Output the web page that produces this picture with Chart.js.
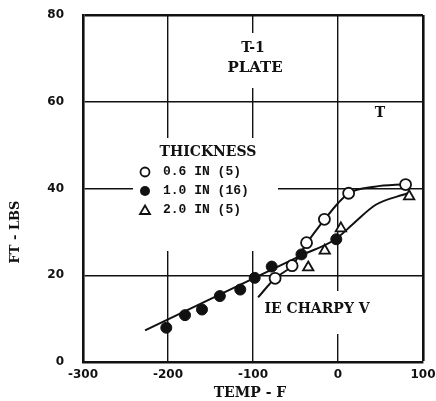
<!DOCTYPE html>
<html>
<head>
<meta charset="utf-8">
<script src="https://cdn.jsdelivr.net/npm/chart.js@4.4.1/dist/chart.umd.min.js"></script>
<style>
  html, body { margin: 0; padding: 0; background: #fff; }
  #wrap { width: 436px; height: 401px; position: relative; }
</style>
</head>
<body>
<div id="wrap"><canvas id="charpy"></canvas></div>
<script>
// axis ticks
const xTicks = [-300, -200, -100, 0, 100];
const yTicks = [0, 20, 40, 60, 80];

// 0.6 IN plate (open circles)
const openTemp = [-74, -54, -37, -16, 12.5, 79.5];
const openEnergy = [19.3, 22.2, 27.5, 32.9, 38.9, 40.9];

// 1.0 IN plate (filled circles)
const filledTemp = [-202, -180, -160, -139, -115, -98, -78, -43, -2];
const filledEnergy = [7.9, 10.8, 12.1, 15.2, 16.7, 19.4, 22.0, 24.8, 28.3];

// 2.0 IN plate (triangles)
const triTemp = [-35, -15.6, 3.4, 83.7];
const triEnergy = [21.8, 25.7, 30.8, 38.2];

// hand drawn fit curves
const upperCurveTemp = [-94, -74, -54, -37, -16, 0, 12.5, 43, 80];
const upperCurveEnergy = [14.9, 19.3, 22.2, 27.3, 32.8, 36.6, 38.9, 40.4, 41];
const lowerCurveTemp = [-227, -100, -43, -3, 17, 44, 82];
const lowerCurveEnergy = [7.3, 19.2, 24.6, 28.3, 31.7, 36.2, 38.9];

const legendRows = ['0.6 IN (5)', '1.0 IN (16)', '2.0 IN (5)'];

const pts = (xs, ys) => xs.map((x, i) => ({ x: x, y: ys[i] }));

const INK = '#111';
const serif = 'bold 14px "DejaVu Serif"';

const notes = {
    id: 'notes',
    beforeDatasetsDraw(chart) {
        const c = chart.ctx;
        c.save();
        // blank out grid behind the labels, like the original
        c.fillStyle = '#fff';
        c.fillRect(225, 33, 60, 55);
        c.fillRect(133, 138, 145, 113);
        c.fillRect(258, 291, 120, 43);

        c.fillStyle = INK;
        c.textAlign = 'center';
        c.textBaseline = 'middle';
        c.font = serif;
        c.fillText('T-1', 253, 48);
        c.font = 'bold 15px "DejaVu Serif"';
        c.fillText('PLATE', 255, 68);
        c.font = serif;
        c.fillText('T', 380, 113);
        c.fillText('THICKNESS', 208, 152);
        c.fillText('IE CHARPY V', 317, 309);

        c.textAlign = 'left';
        c.font = 'bold 13px "Liberation Mono"';
        const rowY = [172, 191, 210];
        legendRows.forEach((t, i) => c.fillText(t, 163, rowY[i]));

        // legend markers
        c.lineWidth = 1.8;
        c.strokeStyle = INK;
        c.beginPath();
        c.arc(145, rowY[0], 4.5, 0, Math.PI * 2);
        c.stroke();
        c.beginPath();
        c.arc(145, rowY[1], 5, 0, Math.PI * 2);
        c.fill();
        c.beginPath();
        c.moveTo(145, rowY[2] - 4.5);
        c.lineTo(150, rowY[2] + 4);
        c.lineTo(140, rowY[2] + 4);
        c.closePath();
        c.stroke();
        c.restore();
    },
    afterDraw(chart) {
        const c = chart.ctx;
        c.save();
        c.fillStyle = INK;
        c.textAlign = 'center';
        c.textBaseline = 'middle';
        c.font = 'bold 14px "DejaVu Serif"';
        c.fillText('TEMP - F', 250, 393);
        c.translate(16, 232);
        c.rotate(-Math.PI / 2);
        c.font = 'bold 13px "DejaVu Serif"';
        c.fillText('FT - LBS', 0, 0);
        c.restore();
    }
};

const tickFont = { family: 'DejaVu Sans', weight: 'bold', size: 12 };

const noPad = s => {
    s.paddingLeft = 0;
    s.paddingRight = 0;
    s.paddingTop = 0;
    s.paddingBottom = 0;
};

new Chart(document.getElementById('charpy'), {
    type: 'scatter',
    data: {
        datasets: [
            {
                data: pts(upperCurveTemp, upperCurveEnergy),
                showLine: true,
                borderColor: INK,
                borderWidth: 2,
                pointRadius: 0,
                cubicInterpolationMode: 'monotone',
                order: 3
            },
            {
                data: pts(lowerCurveTemp, lowerCurveEnergy),
                showLine: true,
                borderColor: INK,
                borderWidth: 2,
                pointRadius: 0,
                cubicInterpolationMode: 'monotone',
                order: 3
            },
            {
                data: pts(openTemp, openEnergy),
                pointStyle: 'circle',
                pointRadius: 5.5,
                pointBorderWidth: 1.8,
                pointBorderColor: INK,
                pointBackgroundColor: '#fff',
                order: 1
            },
            {
                data: pts(filledTemp, filledEnergy),
                pointStyle: 'circle',
                pointRadius: 5.5,
                pointBorderWidth: 1,
                pointBorderColor: INK,
                pointBackgroundColor: INK,
                order: 1
            },
            {
                data: pts(triTemp, triEnergy),
                pointStyle: 'triangle',
                pointRadius: 6,
                pointBorderWidth: 1.8,
                pointBorderColor: INK,
                pointBackgroundColor: '#fff',
                order: 1
            }
        ]
    },
    options: {
        responsive: true,
        maintainAspectRatio: false,
        animation: false,
        layout: { padding: { top: 15, right: 13, left: 0, bottom: 0 } },
        plugins: {
            legend: { display: false },
            tooltip: { enabled: false }
        },
        scales: {
            x: {
                type: 'linear',
                min: xTicks[0],
                max: xTicks[xTicks.length - 1],
                afterBuildTicks: s => { s.ticks = xTicks.map(v => ({ value: v })); },
                afterFit: s => { s.height = 39; noPad(s); },
                grid: {
                    color: INK,
                    lineWidth: ctx => (ctx.tick && ctx.tick.value === 100 ? 2.6 : 1.4),
                    drawTicks: false
                },
                border: { color: INK, width: 2.6 },
                ticks: { color: INK, font: tickFont, padding: 6, maxRotation: 0 }
            },
            y: {
                min: yTicks[0],
                max: yTicks[yTicks.length - 1],
                afterBuildTicks: s => { s.ticks = yTicks.map(v => ({ value: v })); },
                afterFit: s => { s.width = 83; noPad(s); },
                grid: {
                    color: INK,
                    lineWidth: ctx => (ctx.tick && ctx.tick.value === 80 ? 2.6 : 1.4),
                    drawTicks: false
                },
                border: { color: INK, width: 2.6 },
                ticks: { color: INK, font: tickFont, padding: 19 }
            }
        }
    },
    plugins: [notes]
});
</script>
</body>
</html>
